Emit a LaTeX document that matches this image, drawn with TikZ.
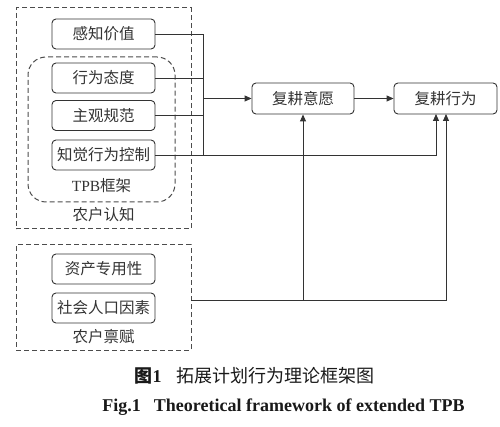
\documentclass[tikz,border=0pt]{standalone}
\usepackage{fontspec}
\setmainfont{Liberation Serif}
\newfontfamily\cjk{Noto Sans CJK SC}
\usetikzlibrary{arrows.meta}
\begin{document}
\begin{tikzpicture}[x=1pt,y=-1pt,
  box/.style={draw=black!80, line width=0.9pt, rounded corners=4pt, minimum width=103pt, minimum height=30pt, inner sep=0pt, font=\cjk\fontsize{15.5}{16}\selectfont, text=black!80},
  dashbox/.style={draw=black!70, line width=1pt, dash pattern=on 5pt off 3pt, inner sep=0pt},
  lab/.style={font=\fontsize{15.5}{16}\selectfont, text=black!80, inner sep=0pt},
  conn/.style={draw=black!80, line width=0.9pt},
  arr/.style={conn, -{Triangle[length=7pt,width=6pt]}}]
\useasboundingbox (0,0) rectangle (500,427);
% group boxes
\node[dashbox, minimum width=175pt, minimum height=221pt] (cog) at (103.5,118.5) {};
\node[dashbox, rounded corners=18pt, minimum width=147pt, minimum height=145pt] (tpb) at (101.5,129.5) {};
\node[dashbox, minimum width=175pt, minimum height=105pt] (end) at (103.5,297.5) {};
% labels
\node[lab] (ltpb) at (101.5,186) {TPB{\cjk 框架}};
\node[lab] (lcog) at (103.5,215) {\cjk 农户认知};
\node[lab] (lend) at (103.5,337) {\cjk 农户禀赋};
% boxes
\node[box] (gz) at (103.5,34) {感知价值};
\node[box] (td) at (103.5,78) {行为态度};
\node[box] (zg) at (103.5,115.5) {主观规范};
\node[box] (zj) at (103.5,155) {知觉行为控制};
\node[box] (zc) at (103.5,269) {资产专用性};
\node[box] (sh) at (103.5,308) {社会人口因素};
\node[box, minimum width=102pt, minimum height=31pt] (yy) at (303,98.5) {复耕意愿};
\node[box, minimum width=103pt, minimum height=31pt] (xw) at (445.5,98.5) {复耕行为};
% coordinates
\coordinate (busb) at (203,155);
\coordinate (xwa) at (436,114);
\coordinate (xwb) at (446,114);
\coordinate (eo) at (191,300);
% connectors
\draw[conn] (gz.east) -| (busb);
\draw[conn] (td.east) -- (td.east -| busb);
\draw[conn] (zg.east) -- (zg.east -| busb);
\draw[arr] (zj.east) -| (xwa);
\draw[arr] (busb |- yy.west) -- (yy.west);
\draw[arr] (yy.east) -- (xw.west);
\draw[arr] (eo) -| (xwb);
\draw[arr] (yy.south |- eo) -- (yy.south);
% caption
\node[inner sep=0pt, text=black!90] (cap1) at (254.5,376) {{\fontsize{18}{19}\selectfont\cjk\bfseries 图}{\fontsize{18}{19}\selectfont\bfseries 1}\hspace{15pt}{\fontsize{18}{19}\selectfont\cjk 拓展计划行为理论框架图}};
\node[inner sep=0pt, text=black!90] (cap2) at (283.5,407) {\fontsize{18}{19}\selectfont\bfseries Fig.1\hspace{13pt}Theoretical framework of extended TPB};
\end{tikzpicture}
\end{document}
